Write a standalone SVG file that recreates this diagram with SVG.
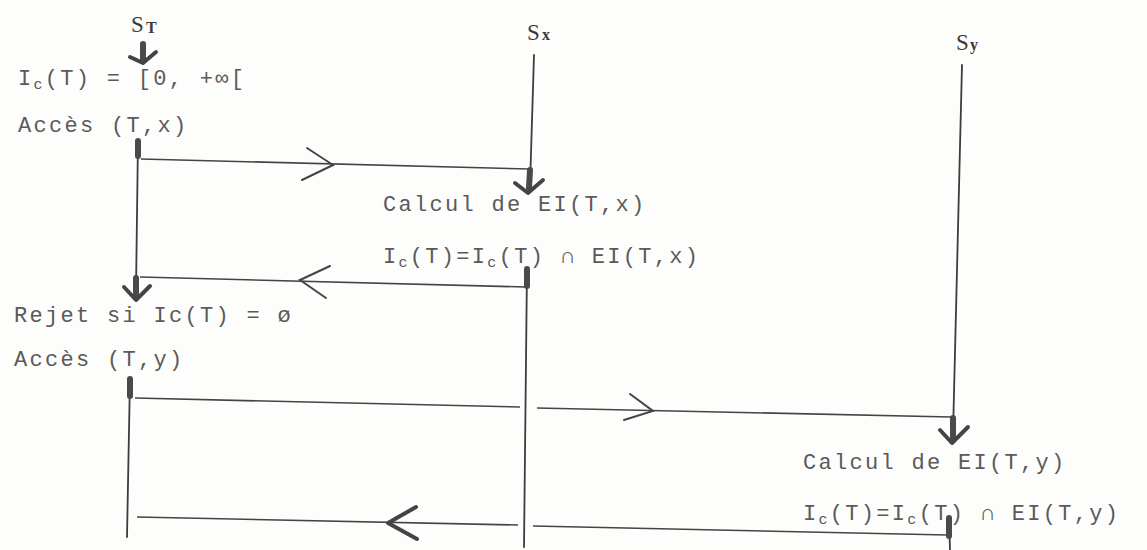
<svg xmlns="http://www.w3.org/2000/svg" width="1147" height="550" viewBox="0 0 1147 550">
<style>
.t{font-family:"Liberation Mono","DejaVu Sans Mono",monospace;font-size:22px;fill:#5a5a5a;letter-spacing:2.3px}
.s{font-family:"Liberation Serif","DejaVu Serif",serif;font-size:23px;fill:#3a3a3a}
.sub{font-family:"Liberation Serif","DejaVu Serif",serif;font-size:16px;font-weight:bold;fill:#3a3a3a}
.ln{stroke:#3c3c3c;stroke-width:1.8;fill:none;stroke-linecap:round}
.msg{stroke:#444;stroke-width:1.6;fill:none}
.thk{stroke:#4a4a4a;stroke-width:6;fill:none;stroke-linecap:round}
.hd{stroke:#444;stroke-width:4;fill:none;stroke-linecap:round;stroke-linejoin:round}
.ch{stroke:#444;stroke-width:2;fill:none;stroke-linecap:round;stroke-linejoin:miter}
</style>
<rect width="1147" height="550" fill="#fdfdfc"/>
<g id="ST">
<text class="s" x="131" y="32">S</text><text class="sub" x="146" y="33">T</text>
<path class="thk" d="M143,44 L143,60"/>
<path class="hd" d="M130,57 L143,63 L156,52"/>
</g>
<g id="Sx">
<text class="s" x="527" y="40">S</text><text class="sub" x="542" y="40">x</text>
</g>
<g id="Sy">
<text class="s" x="956" y="50">S</text><text class="sub" x="970" y="50">y</text>
</g>
<g id="lifeline-T">
<path class="ln" d="M138,140 L136,290"/>
<path class="thk" d="M138,141 L138,156"/>
<path class="thk" d="M136,278 L136,296"/>
<path class="hd" d="M124,287 L136,300 L150,286"/>
<path class="ln" d="M130,378 L127,537"/>
<path class="thk" d="M130,379 L130,396"/>
</g>
<g id="lifeline-Sx">
<path class="ln" d="M534,55 L530,186"/>
<path class="thk" d="M530,170 L529,188"/>
<path class="hd" d="M515,183 L528,193 L543,180"/>
<path class="ln" d="M527,268 L524,547"/>
<path class="thk" d="M527,269 L527,286"/>
</g>
<g id="lifeline-Sy">
<path class="ln" d="M962,65 L953,434"/>
<path class="thk" d="M953,418 L953,438"/>
<path class="hd" d="M940,430 L952,443 L968,427"/>
<path class="ln" d="M949,517 L950,550"/>
<path class="thk" d="M949,518 L949,536"/>
</g>
<g id="labels">
<text class="t" x="18" y="85">I<tspan font-size="15" dy="4">c</tspan><tspan dy="-4">(T) = [0, +∞[</tspan></text>
<text class="t" x="18" y="132">Accès (T,x)</text>
<text class="t" x="383" y="211">Calcul de EI(T,x)</text>
<text class="t" x="383" y="263">I<tspan font-size="15" dy="4">c</tspan><tspan dy="-4">(T)=I</tspan><tspan font-size="15" dy="4">c</tspan><tspan dy="-4">(T) ∩ EI(T,x)</tspan></text>
<text class="t" x="14" y="322">Rejet si Ic(T) = ø</text>
<text class="t" x="14" y="366">Accès (T,y)</text>
<text class="t" x="803" y="469">Calcul de EI(T,y)</text>
<text class="t" x="803" y="520">I<tspan font-size="15" dy="4">c</tspan><tspan dy="-4">(T)=I</tspan><tspan font-size="15" dy="4">c</tspan><tspan dy="-4">(T) ∩ EI(T,y)</tspan></text>
</g>
<g id="connectors">
<path class="msg" d="M141,159 L530,169"/>
<path class="ch" d="M307,148 L333,165 L302,180"/>
<path class="msg" d="M525,287 L140,277"/>
<path class="ch" d="M330,266 L300,280 L326,298"/>
<path class="msg" d="M135,398 L520,407"/>
<path class="msg" d="M537,408 L951,417"/>
<path class="ch" d="M630,394 L653,411 L624,420"/>
<path class="msg" d="M947,535 L533,526"/>
<path class="msg" d="M518,525 L137,517"/>
<path class="hd" d="M416,507 L388,523 L417,539"/>
</g>
</svg>
